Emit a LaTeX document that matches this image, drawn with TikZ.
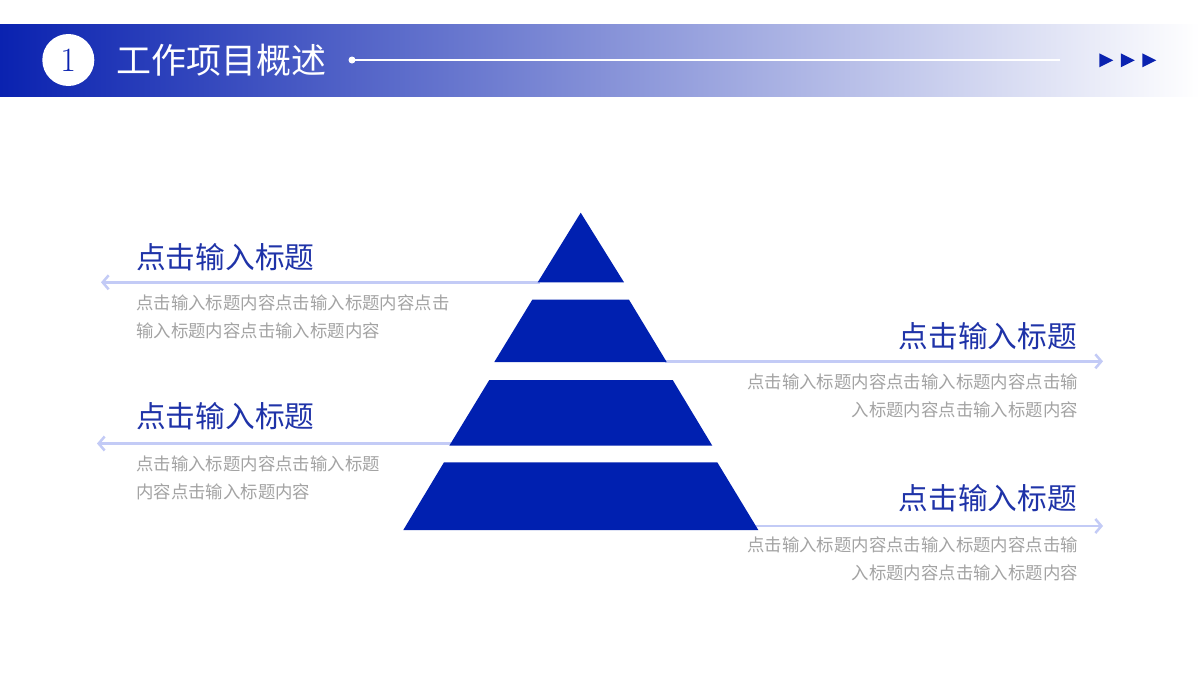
\documentclass[tikz,border=0pt]{standalone}
\usepackage{fontspec}
\usepackage{xcolor}
\usetikzlibrary{positioning, arrows.meta}
\newfontfamily\cjk{Noto Sans CJK SC}
\definecolor{pyrblue}{HTML}{0020B0}
\definecolor{hdrblue}{HTML}{0A22B0}
\definecolor{ttlblue}{HTML}{1F33A8}
\definecolor{bodygray}{HTML}{A3A3A3}
\definecolor{linkblue}{HTML}{C3CBF6}
\tikzset{
  arr/.style={linkblue, line width=2.5pt, -{Straight Barb[length=6pt,width=14pt]}},
  ttl/.style={inner sep=0pt, ttlblue, font=\cjk\fontsize{29.7}{34}\selectfont},
  body/.style={inner sep=0pt, bodygray, font=\cjk\fontsize{17.4}{28}\selectfont},
}

\begin{document}
\begin{tikzpicture}[x=1pt, y=-1pt]
\useasboundingbox (0,0) rectangle (1200,675);
\fill[white] (0,0) rectangle (1200,675);
% header
\shade[left color=hdrblue, right color=white] (0,24) rectangle (1200,96.5);
\node[circle, fill=white, minimum size=52pt, inner sep=0pt, text=hdrblue, font=\fontsize{34}{34}\selectfont] (badge) at (68.3,60) {1};
\node[anchor=west, inner sep=0pt, text=white, font=\cjk\fontsize{35}{35}\selectfont] (hdr) at (116,60) {工作项目概述};
\fill[white] (352,60) circle (3.5pt);
\draw[white, line width=1.2pt] (352,60) -- (1060,60);
\foreach \dx in {0, 21.5, 43}
  \fill[hdrblue] (1099.3+\dx,53.3) -- (1113.3+\dx,60.3) -- (1099.3+\dx,67.3) -- cycle;

% connectors
\coordinate (c1) at (540,282.3);
\coordinate (c2) at (665,361.3);
\coordinate (c3) at (451,443.5);
\coordinate (c4) at (755,526);
\coordinate (e1) at (101,282.3);
\coordinate (e2) at (1103,361.3);
\coordinate (e3) at (97,443.5);
\coordinate (e4) at (1103,526);
\draw[arr] (c1) -- (e1);
\draw[arr] (c2) -- (e2);
\draw[arr] (c3) -- (e3);
\draw[arr] (c4) -- (e4);

% pyramid
\fill[pyrblue] (580.7,212.7) -- (624,282.3) -- (537.7,282.3) -- cycle;
\fill[pyrblue] (532.3,299.7) -- (629,299.7) -- (666.7,362) -- (494.3,362) -- cycle;
\fill[pyrblue] (489.3,380) -- (672.7,380) -- (712.3,445.7) -- (449.3,445.7) -- cycle;
\fill[pyrblue] (444,462.3) -- (717.3,462.3) -- (758.3,530) -- (403.3,530) -- cycle;

% texts
\node[ttl, anchor=west] (title1) at (136,257) {点击输入标题};
\node[body, anchor=west, align=left] (body1) at (136,317) {点击输入标题内容点击输入标题内容点击\\输入标题内容点击输入标题内容};
\node[ttl, anchor=east] (title2) at (1077,336) {点击输入标题};
\node[body, anchor=east, align=right] (body2) at (1078,396) {点击输入标题内容点击输入标题内容点击输\\入标题内容点击输入标题内容};
\node[ttl, anchor=west] (title3) at (136,416) {点击输入标题};
\node[body, anchor=west, align=left] (body3) at (136,477.5) {点击输入标题内容点击输入标题\\内容点击输入标题内容};
\node[ttl, anchor=east] (title4) at (1077,498) {点击输入标题};
\node[body, anchor=east, align=right] (body4) at (1078,559) {点击输入标题内容点击输入标题内容点击输\\入标题内容点击输入标题内容};

\end{tikzpicture}
\end{document}
